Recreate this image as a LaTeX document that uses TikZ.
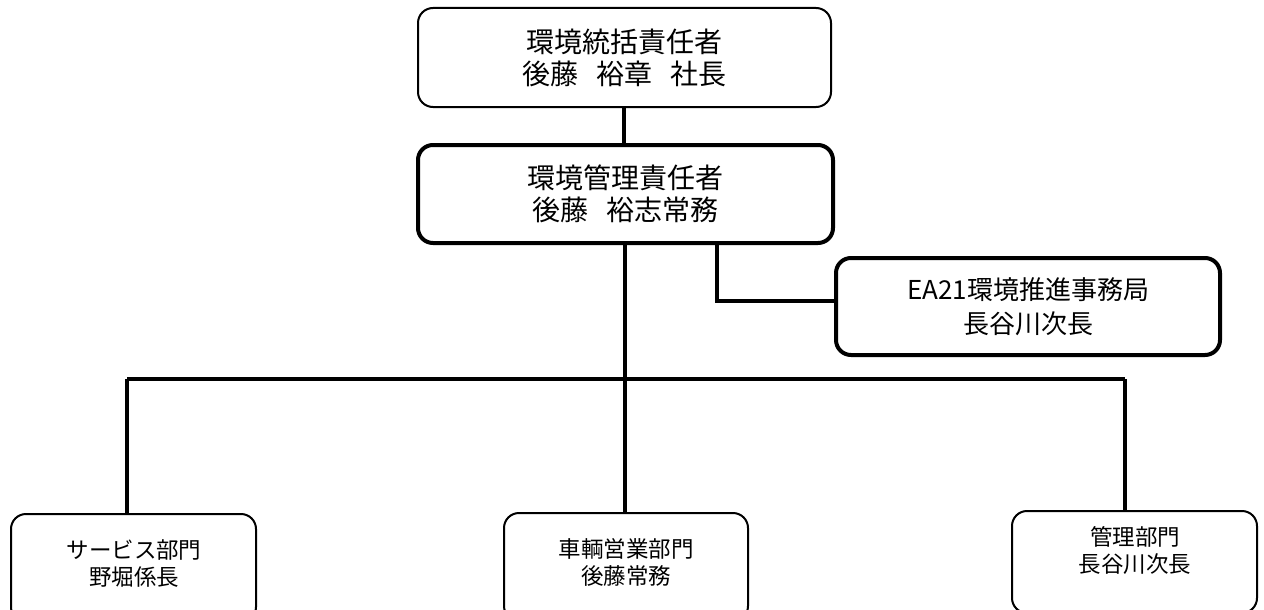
\documentclass[tikz,border=0pt]{standalone}
\usepackage{fontspec}
\setmainfont{Noto Sans CJK JP}
\newcommand{\gapsp}{\hspace{0.65em}}
\begin{document}
\begin{tikzpicture}[x=1pt,y=-1pt,
  box/.style={draw, rounded corners=15pt, line width=2pt, align=center, inner sep=0pt},
  boldbox/.style={box, line width=4pt},
  conn/.style={line width=3.5pt},
  bigtxt/.style={font=\fontsize{28pt}{32pt}\selectfont},
  midtxt/.style={font=\fontsize{26pt}{34pt}\selectfont},
  smalltxt/.style={font=\fontsize{22.5pt}{27pt}\selectfont, align=center, inner sep=0pt}]
\useasboundingbox (0,0) rectangle (1264,610);
\clip (0,0) rectangle (1264,610);
% boxes
\node[box, bigtxt, minimum width=413pt, minimum height=99pt] (top) at (624.5,57.5)
  {環境統括責任者\\後藤\gapsp 裕章\gapsp 社長};
\node[boldbox, bigtxt, minimum width=415pt, minimum height=98pt] (mgr) at (625.5,194)
  {環境管理責任者\\後藤\gapsp 裕志常務};
\node[boldbox, midtxt, minimum width=384pt, minimum height=97pt] (ea) at (1028,306.5)
  {EA21環境推進事務局\\長谷川次長};
\node[box, minimum width=245pt, minimum height=108pt] (svc) at (133.5,568) {};
\node[box, minimum width=244pt, minimum height=108pt] (car) at (626,567) {};
\node[box, minimum width=245pt, minimum height=102pt] (adm) at (1134.5,562) {};
\node[smalltxt] (svct) at (134,564) {サービス部門\\野堀係長};
\node[smalltxt] (cart) at (626,562) {車輌営業部門\\後藤常務};
\node[smalltxt] (admt) at (1135,550) {管理部門\\長谷川次長};
% connectors
\coordinate (hub) at (625,379);
\coordinate (hl) at (127,379);
\coordinate (hr) at (1125,379);
\coordinate (bend) at (717,301);
\draw[conn] (top.south -| 624,0) -- (mgr.north -| 624,0);
\draw[conn] (mgr.south -| hub) -- (hub);
\draw[conn] (hl) -- (hr);
\draw[conn] (hl) -- (hl |- svc.north);
\draw[conn] (hub) -- (hub |- car.north);
\draw[conn] (hr) -- (hr |- adm.north);
\draw[conn] (mgr.south -| bend) -- (bend) -- (bend -| ea.west);
\end{tikzpicture}
\end{document}
